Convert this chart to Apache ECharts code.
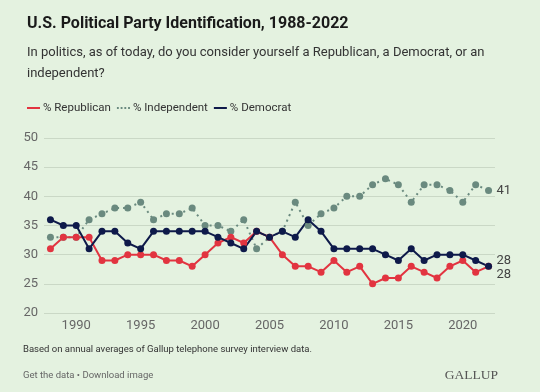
<!DOCTYPE html>
<html>
<head>
<meta charset="utf-8">
<script src="https://cdn.jsdelivr.net/npm/echarts@6/dist/echarts.min.js"></script>
<style>
html,body{margin:0;padding:0;background:#e4f2e0;}
#chart{width:540px;height:392px;}
</style>
</head>
<body>
<div id="chart"></div>
<script>
var years = [];
for (var y = 1988; y <= 2022; y++) years.push(String(y));

var republican = [31,33,33,33,29,29,30,30,30,29,29,28,30,32,33,32,34,33,30,28,28,27,29,27,28,25,26,26,28,27,26,28,29,27,28];
var independent = [33,33,33,36,37,38,38,39,36,37,37,38,35,35,34,36,31,33,34,39,35,37,38,40,40,42,43,42,39,42,42,41,39,42,41];
var democrat = [36,35,35,31,34,34,32,31,34,34,34,34,34,33,32,31,34,33,34,33,36,34,31,31,31,31,30,29,31,29,30,30,30,29,28];

var yTicks = [20, 50, 5];

var RED = '#e23440', GREY = '#6a8a7f', NAVY = '#0e1a4a';
var FONT = 'Roboto, "Noto Sans", sans-serif';

var chart = echarts.init(document.getElementById('chart'));
chart.setOption({
  backgroundColor: '#e4f2e0',
  animation: false,
  textStyle: {fontFamily: FONT},
  title: [
    {text: 'U.S. Political Party Identification, 1988-2022', left: 22, top: 11,
     textStyle: {fontFamily: FONT, fontSize: 16, fontWeight: 'bold', color: '#1a1a1a'}},
    {text: 'In politics, as of today, do you consider yourself a Republican, a Democrat, or an\nindependent?',
     left: 22, top: 37, textStyle: {fontFamily: FONT, fontSize: 13, fontWeight: 'normal', color: '#333', lineHeight: 21}}
  ],
  legend: {
    left: 22, top: 97, itemGap: 6, itemWidth: 13, itemHeight: 2,
    textStyle: {fontFamily: FONT, fontSize: 11.5, color: '#333', padding: [0,0,0,-2]},
    data: [
      {name: '% Republican', icon: 'rect', itemStyle: {color: RED}},
      {name: '% Independent', icon: 'path://M0,0h2v2h-2zM4,0h2v2h-2zM8,0h2v2h-2zM12,0h2v2h-2z', itemStyle: {color: GREY}},
      {name: '% Democrat', icon: 'rect', itemStyle: {color: NAVY}}
    ]
  },
  grid: {left: 44, right: 45, top: 138, bottom: 79, containLabel: false},
  xAxis: {
    type: 'category', data: years, boundaryGap: true,
    axisLine: {show: false}, axisTick: {show: false},
    axisLabel: {color: '#666', fontSize: 13, margin: 6, interval: function (i, v) { return Number(v) % 5 === 0; }}
  },
  yAxis: {
    type: 'value', min: yTicks[0], max: yTicks[1], interval: yTicks[2],
    axisLine: {show: false}, axisTick: {show: false},
    axisLabel: {color: '#666', fontSize: 13, margin: 6},
    splitLine: {lineStyle: {color: '#cad8c6', width: 1}}
  },
  series: [
    {name: '% Independent', type: 'line', data: independent, symbol: 'circle', symbolSize: 7,
     lineStyle: {color: GREY, width: 2, type: [2, 4]}, itemStyle: {color: GREY},
     endLabel: {show: true, color: '#444', fontSize: 13, distance: 8, formatter: function (p) { return p.value; }}},
    {name: '% Republican', type: 'line', data: republican, symbol: 'circle', symbolSize: 7,
     lineStyle: {color: RED, width: 2}, itemStyle: {color: RED},
     endLabel: {show: true, color: '#444', fontSize: 13, distance: 8, offset: [0, 8], formatter: function (p) { return p.value; }}},
    {name: '% Democrat', type: 'line', data: democrat, symbol: 'circle', symbolSize: 7,
     lineStyle: {color: NAVY, width: 2}, itemStyle: {color: NAVY},
     endLabel: {show: true, color: '#444', fontSize: 13, distance: 8, offset: [0, -6], formatter: function (p) { return p.value; }}}
  ],
  graphic: [
    {type: 'text', left: 23, top: 345, style: {text: 'Based on annual averages of Gallup telephone survey interview data.', font: '9.5px ' + FONT, fill: '#333'}},
    {type: 'text', left: 23, top: 371, style: {text: 'Get the data \u2022 Download image', font: '9.5px ' + FONT, fill: '#666'}},
    {type: 'text', right: 42, top: 368, style: {text: 'GALLUP', font: '13.5px "Liberation Serif", "DejaVu Serif", serif', fill: '#555'}}
  ]
});
</script>
</body>
</html>
